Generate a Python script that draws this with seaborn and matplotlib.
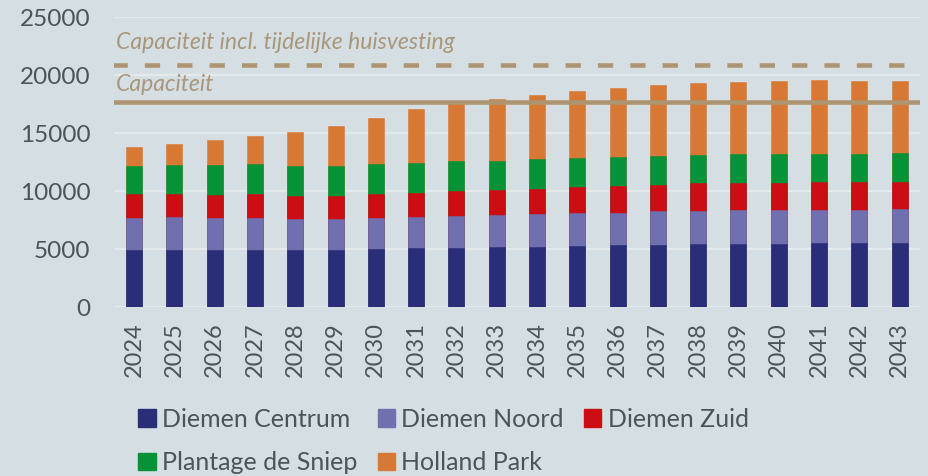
import numpy as np
import pandas as pd
import matplotlib
matplotlib.use("Agg")
import matplotlib.pyplot as plt
import seaborn as sns
from matplotlib.patches import Patch

# -------------------------------------------------------------------------
# data — cumulatieve bovenkant per wijk
# -------------------------------------------------------------------------
years = [str(y) for y in range(2024, 2044)]
regions = ["Diemen Centrum", "Diemen Noord", "Diemen Zuid",
           "Plantage de Sniep", "Holland Park"]

top_centrum = [4910, 4940, 4940, 4940, 4940, 4940, 5030, 5060, 5120, 5190,
               5200, 5290, 5370, 5370, 5460, 5460, 5460, 5550, 5550, 5550]
top_noord = [7670, 7760, 7670, 7670, 7620, 7620, 7670, 7760, 7850, 7930,
             8020, 8100, 8100, 8250, 8310, 8360, 8360, 8390, 8390, 8450]
top_zuid = [9710, 9710, 9660, 9710, 9600, 9600, 9710, 9830, 9970, 10100,
            10200, 10320, 10430, 10550, 10660, 10720, 10720, 10750, 10800, 10800]
top_sniep = [12130, 12270, 12270, 12300, 12180, 12180, 12300, 12410, 12560, 12615,
             12790, 12870, 12960, 13050, 13130, 13190, 13190, 13220, 13220, 13300]
top_holland = [13790, 14080, 14370, 14740, 15090, 15600, 16290, 17070, 17600, 17920,
               18280, 18590, 18850, 19140, 19310, 19420, 19480, 19540, 19480, 19480]

capaciteit = 17700
capaciteit_tijdelijk = 20850

colors = ["#2a2d78", "#7070b0", "#cc0d14", "#069337", "#d77835"]
BG = "#d5dee3"
TXT = "#4b5557"
LINE = "#ad9571"

# -------------------------------------------------------------------------
# plot
# -------------------------------------------------------------------------
sns.set_theme(style="white")
plt.rcParams["font.family"] = ["Lato", "DejaVu Sans"]
plt.rcParams["lines.scale_dashes"] = False

df = pd.DataFrame({"jaar": years,
                   "Diemen Centrum": top_centrum,
                   "Diemen Noord": top_noord,
                   "Diemen Zuid": top_zuid,
                   "Plantage de Sniep": top_sniep,
                   "Holland Park": top_holland})

fig = plt.figure(figsize=(9.29, 4.76), dpi=100, facecolor=BG)
ax = fig.add_axes([0.1227, 0.355, 0.8673, 0.609])
ax.set_facecolor(BG)

# achter naar voren tekenen: hoogste cumulatieve laag eerst
for name, col in reversed(list(zip(regions, colors))):
    sns.barplot(data=df, x="jaar", y=name, color=col, width=0.4,
                saturation=1, edgecolor=col, linewidth=0.4, ax=ax, zorder=2)

ax.set_ylim(0, 25000)
ax.set_xlim(-0.5, len(years) - 0.5)
ax.set_yticks(np.arange(0, 25001, 5000))
ax.set_yticklabels([str(v) for v in range(0, 25001, 5000)])
ax.yaxis.grid(True, color="#e4eaec", linewidth=1.6, zorder=0)
ax.set_axisbelow(True)
for s in ax.spines.values():
    s.set_visible(False)
ax.set_xlabel("")
ax.set_ylabel("")
ax.tick_params(axis="y", length=0, pad=17, labelsize=17.5, labelcolor=TXT)
ax.tick_params(axis="x", length=0, pad=11, labelsize=17, labelcolor=TXT,
               rotation=90)

# capaciteitslijnen
ax.axhline(capaciteit, color=LINE, linewidth=3.3, zorder=3, xmin=-0.003, xmax=1.003)
ax.axhline(capaciteit_tijdelijk, color=LINE, linewidth=3.3, zorder=3,
           dashes=(11, 12.3), xmin=-0.003, xmax=1.003)

trans = ax.get_yaxis_transform()
ax.text(0.002, 22250, "Capaciteit incl. tijdelijke huisvesting", transform=trans,
        style="italic", fontsize=16.6, color="#a8977a", va="baseline", ha="left")
ax.text(0.002, 18650, "Capaciteit", transform=trans,
        style="italic", fontsize=16.6, color="#a8977a", va="baseline", ha="left")

# legenda (kolomsgewijs gevuld, dus volgorde aanpassen)
handles = [Patch(facecolor=c, edgecolor=c, label=n) for n, c in zip(regions, colors)]
order = [0, 3, 1, 4, 2]
leg = fig.legend([handles[i] for i in order], [regions[i] for i in order],
                 ncol=3, loc="upper left", bbox_to_anchor=(0.149, 0.143),
                 frameon=False, fontsize=18, handlelength=0.7, handleheight=0.7,
                 handletextpad=0.25, columnspacing=0.8, labelspacing=0.82,
                 borderaxespad=0, borderpad=0)
for t in leg.get_texts():
    t.set_color(TXT)

fig.savefig("out.png", dpi=100, facecolor=BG)
